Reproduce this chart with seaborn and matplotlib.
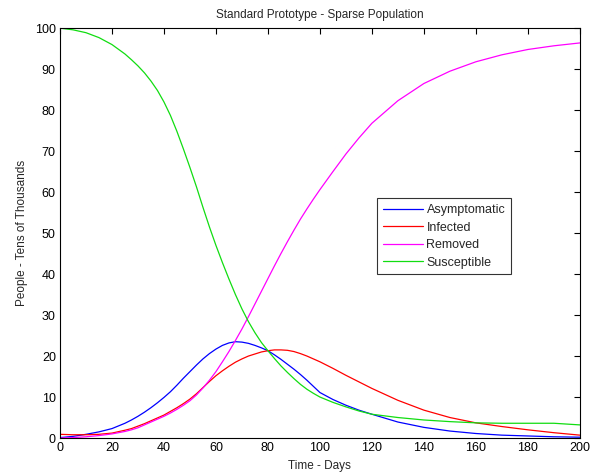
import matplotlib
matplotlib.use("Agg")
import matplotlib.pyplot as plt
import seaborn as sns
import pandas as pd

days = [0, 5, 10, 15, 20,
        25, 27.5, 30, 32.5, 35, 37.5, 40, 42.5, 45, 47.5, 50, 52.5, 55, 57.5, 60, 62.5,
        65, 67.5, 70, 72.5, 75, 77.5, 80, 82.5, 85, 87.5, 90, 92.5, 95, 97.5, 100,
        105, 110, 115, 120, 130, 140, 150, 160, 170, 180, 190, 200]

asymptomatic = [0.1, 0.4, 0.9, 1.5, 2.3,
                3.6, 4.4, 5.3, 6.3, 7.4, 8.6, 9.9, 11.3, 12.9, 14.6, 16.2, 17.8, 19.3, 20.6, 21.7, 22.6,
                23.2, 23.5, 23.4, 23.1, 22.6, 22.0, 21.3, 20.3, 19.2, 18.0, 16.8, 15.5, 14.1, 12.6, 11.1,
                9.4, 8.0, 6.8, 5.8, 3.9, 2.6, 1.7, 1.1, 0.7, 0.5, 0.3, 0.2]
infected = [0.9, 0.8, 0.8, 0.9, 1.2,
            1.9, 2.3, 2.9, 3.5, 4.2, 4.9, 5.6, 6.5, 7.4, 8.4, 9.5, 10.8, 12.3, 13.8, 15.2, 16.4,
            17.5, 18.5, 19.3, 20.0, 20.5, 21.0, 21.3, 21.5, 21.5, 21.4, 21.1, 20.6, 20.0, 19.3, 18.6,
            17.0, 15.3, 13.7, 12.1, 9.2, 6.8, 5.0, 3.7, 2.8, 2.0, 1.3, 0.7]
removed = [0.0, 0.1, 0.3, 0.6, 1.0,
           1.6, 2.0, 2.5, 3.2, 3.9, 4.6, 5.3, 6.1, 7.0, 8.0, 9.1, 10.5, 12.2, 14.1, 16.2, 18.6,
           21.1, 23.8, 26.6, 29.6, 32.7, 35.8, 38.9, 42.0, 45.0, 47.9, 50.7, 53.4, 55.9, 58.3, 60.6,
           65.0, 69.3, 73.2, 76.8, 82.3, 86.5, 89.5, 91.8, 93.5, 94.8, 95.7, 96.4]
susceptible = [100.0, 99.6, 98.9, 97.7, 96.0,
               93.7, 92.3, 90.8, 89.1, 87.1, 84.8, 82.0, 78.7, 74.8, 70.5, 66.0, 61.3, 56.3, 51.5, 47.0, 42.8,
               38.8, 35.0, 31.5, 28.4, 25.7, 23.3, 21.3, 19.4, 17.6, 16.0, 14.5, 13.1, 11.9, 10.9, 10.0,
               8.7, 7.6, 6.6, 5.8, 5.0, 4.4, 4.0, 3.7, 3.6, 3.6, 3.6, 3.2]

series_names = ["Asymptomatic", "Infected", "Removed", "Susceptible"]
series_values = [asymptomatic, infected, removed, susceptible]
colors = ["#0000ff", "#ff0000", "#ff00ff", "#11dd11"]

x_ticks = list(range(0, 201, 20))
y_ticks = list(range(0, 101, 10))

rows = []
for name, vals in zip(series_names, series_values):
    for d, v in zip(days, vals):
        rows.append({"Day": d, "Value": v, "Series": name})
df = pd.DataFrame(rows)

sns.set_style("white")
plt.rcParams["font.family"] = ["Liberation Sans", "DejaVu Sans"]
plt.rcParams["xtick.direction"] = "in"
plt.rcParams["ytick.direction"] = "in"

fig = plt.figure(figsize=(6.01, 4.76), dpi=100)
ax = fig.add_axes([0.0998, 0.0798, 0.865, 0.861])

sns.lineplot(data=df, x="Day", y="Value", hue="Series", hue_order=series_names,
             palette=colors, linewidth=0.9, ax=ax)

ax.set_xlim(0, 200)
ax.set_ylim(0, 100)
ax.set_xticks(x_ticks)
ax.set_yticks(y_ticks)
ax.tick_params(axis="both", which="both", direction="in", length=4, width=0.8,
               top=True, right=True, labelsize=9, colors="black", pad=3)
for s in ax.spines.values():
    s.set_visible(True)
    s.set_color("black")
    s.set_linewidth(0.8)

ax.set_title("Standard Prototype - Sparse Population", fontsize=8.5, pad=7)
ax.set_xlabel("Time - Days", fontsize=8.5, labelpad=4)
ax.set_ylabel("People - Tens of Thousands", fontsize=8.5, labelpad=5)

leg = ax.legend(loc="upper left", bbox_to_anchor=(0.610, 0.585), fontsize=9,
                frameon=True, fancybox=False, edgecolor="black", handlelength=3.2,
                handletextpad=0.3, borderpad=0.45, labelspacing=0.45, borderaxespad=0)
leg.get_frame().set_linewidth(0.8)

fig.savefig("out.png", dpi=100)
